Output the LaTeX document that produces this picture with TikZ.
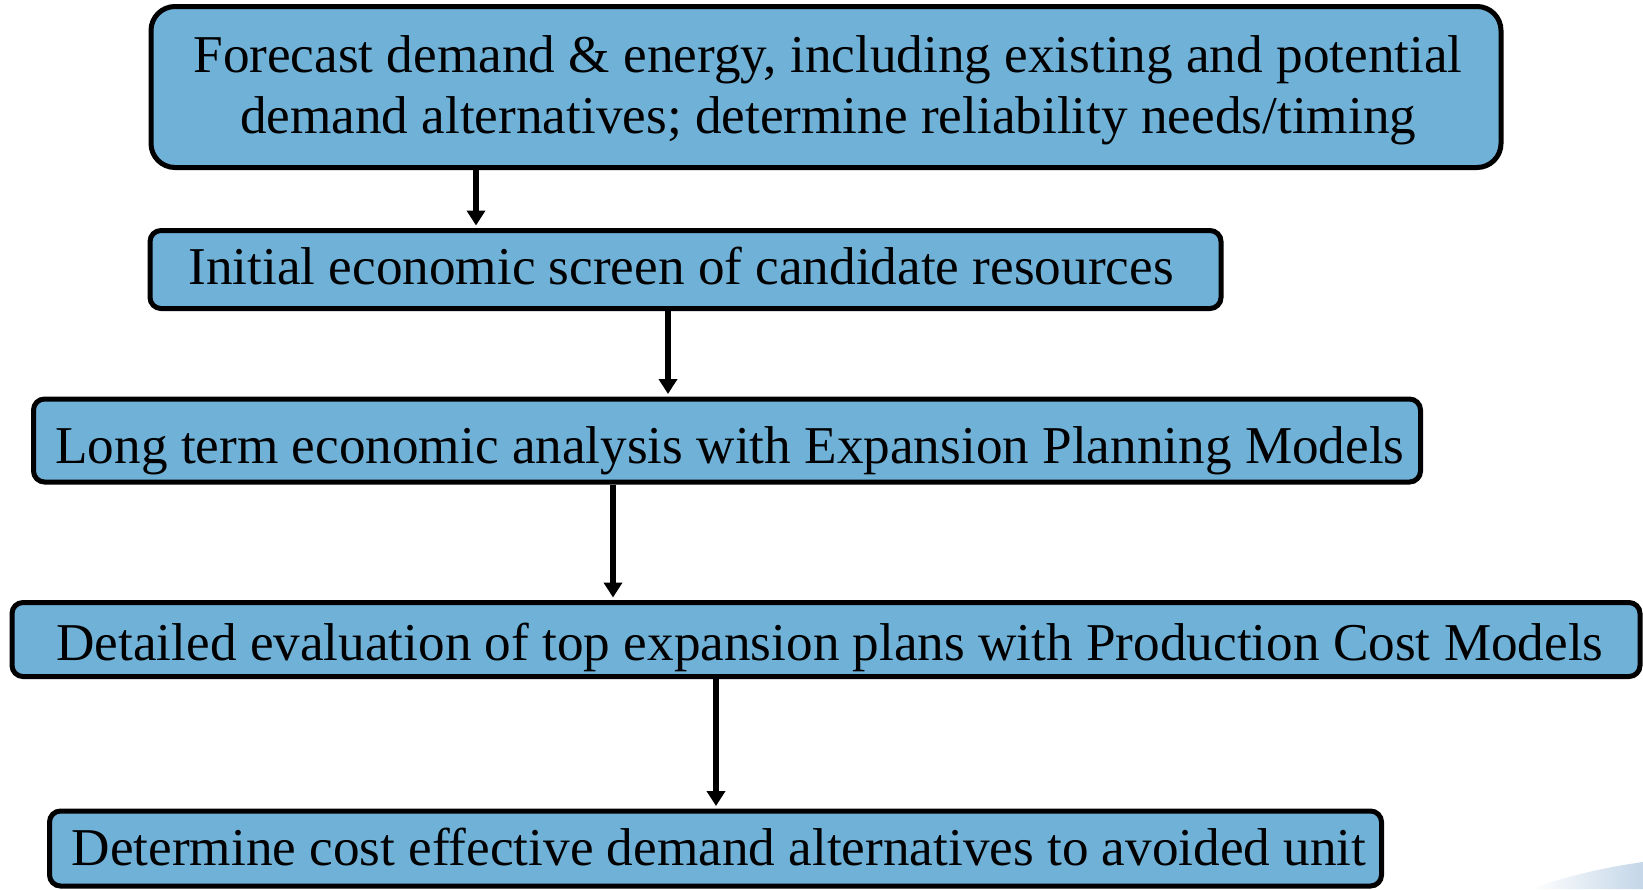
\documentclass[tikz,border=0pt]{standalone}
\usepackage{fontspec}
\setmainfont{Liberation Serif}
\usetikzlibrary{arrows.meta,calc}
\definecolor{boxblue}{RGB}{112,177,216}
\definecolor{swoosh}{RGB}{196,214,232}
\tikzset{
  stepbox/.style={draw=black, line width=5pt, fill=boxblue, rounded corners=11pt,
    inner sep=0pt},
  bigbox/.style={stepbox, rounded corners=24pt},
  steptext/.style={inner sep=0pt, align=center, font=\fontsize{53.2}{61}\selectfont, text=black},
  arr/.style={draw=black, line width=6pt, -{Triangle[width=18pt,length=15pt]}}
}
\begin{document}
\begin{tikzpicture}[x=1pt,y=-1pt]
\useasboundingbox (0,0) rectangle (1643,889);
\clip (0,0) rectangle (1643,889);
% faint background swoosh
\shade[left color=white, right color=swoosh, draw=none]
  (1530,889) .. controls (1580,872) and (1615,866) .. (1643,862) -- (1643,889) -- cycle;
% boxes
\node[bigbox, minimum width=1350pt, minimum height=161pt] (b1) at (826,87) {};
\node[stepbox, minimum width=1071pt, minimum height=78pt] (b2) at (685.5,269.5) {};
\node[stepbox, minimum width=1387pt, minimum height=83pt] (b3) at (727,440.5) {};
\node[stepbox, minimum width=1628pt, minimum height=74pt] (b4) at (826,639.5) {};
\node[stepbox, minimum width=1332pt, minimum height=75pt] (b5) at (715.5,848.5) {};
% texts
\node[steptext] (t1) at (828,90)
  {Forecast demand \& energy, including existing and potential\\demand alternatives; determine reliability needs/timing};
\node[steptext, anchor=base] (t2) at (681,284) {Initial economic screen of candidate resources};
\node[steptext, anchor=base] (t3) at (730,463) {Long term economic analysis with Expansion Planning Models};
\node[steptext, anchor=base] (t4) at (830,660) {Detailed evaluation of top expansion plans with Production Cost Models};
\node[steptext, anchor=base] (t5) at (719,865) {Determine cost effective demand alternatives to avoided unit};
% connector x positions
\coordinate (x1) at (476,0);
\coordinate (x2) at (668,0);
\coordinate (x3) at (613,0);
\coordinate (x4) at (716,0);
\draw[arr] (b1.south -| x1) -- ($(b2.north -| x1)+(0,-2.5)$);
\draw[arr] (b2.south -| x2) -- ($(b3.north -| x2)+(0,-2.5)$);
\draw[arr] (b3.south -| x3) -- ($(b4.north -| x3)+(0,-2.5)$);
\draw[arr] (b4.south -| x4) -- ($(b5.north -| x4)+(0,-2.5)$);
\end{tikzpicture}
\end{document}
